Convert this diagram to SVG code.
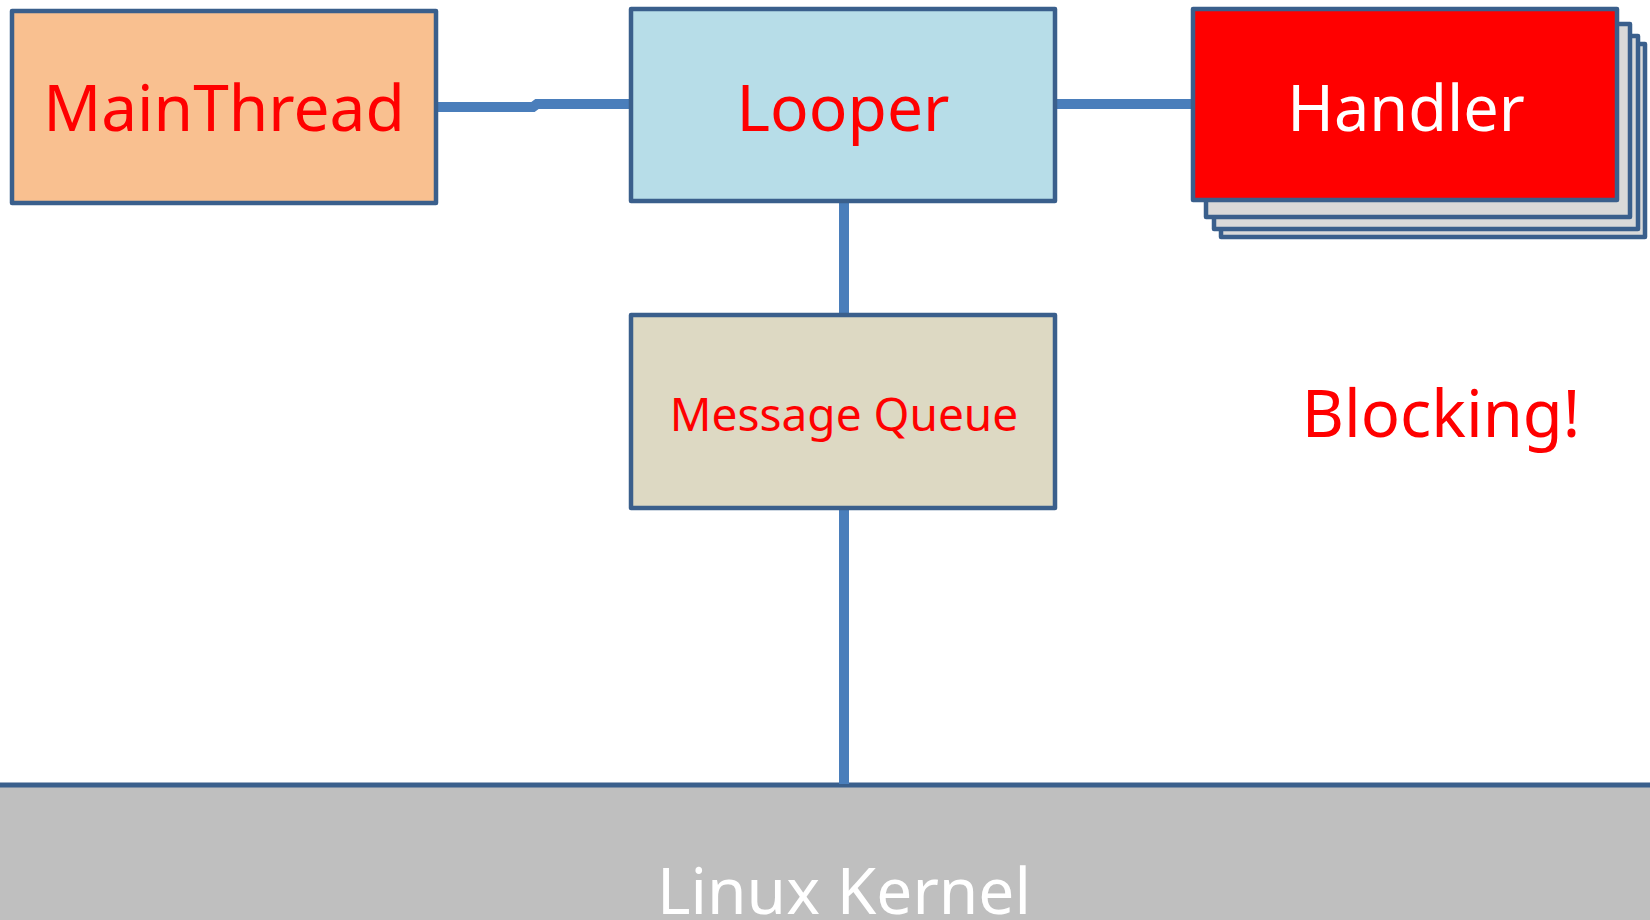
<svg xmlns="http://www.w3.org/2000/svg" width="1650" height="920" viewBox="0 0 1650 920">
<style>
.box{stroke:#3A5F8C;stroke-width:4.5;stroke-linejoin:round}
.conn{stroke:#4A7EBB;stroke-width:10;fill:none}
.t{font-family:"Noto Sans","Open Sans",sans-serif;text-anchor:middle}
.red{fill:#FF0000}
.white{fill:#FFFFFF}
</style>
<rect width="1650" height="920" fill="#FFFFFF"/>
<g id="kernel">
<rect x="0" y="785" width="1650" height="140" fill="#BFBFBF"/>
<line x1="0" y1="785" x2="1650" y2="785" stroke="#3A5F8C" stroke-width="5"/>
<text class="t white" x="844" y="914" font-size="64">Linux Kernel</text>
</g>
<g id="connectors">
<path class="conn" d="M437 107 L533 107 L537 104 L631 104"/>
<line class="conn" x1="1055" y1="104" x2="1193" y2="104"/>
<line class="conn" x1="844" y1="201" x2="844" y2="315"/>
<line class="conn" x1="844" y1="508" x2="844" y2="784"/>
</g>
<g id="mainthread">
<rect class="box" x="12" y="11" width="424" height="192" fill="#F9C090"/>
<text class="t red" x="224" y="131" font-size="64">MainThread</text>
</g>
<g id="looper">
<rect class="box" x="631" y="9" width="424" height="192" fill="#B7DDE8"/>
<text class="t red" x="843" y="131" font-size="64">Looper</text>
</g>
<g id="handler">
<rect class="box" x="1221" y="44" width="424" height="193" fill="#D9D9D9"/>
<rect class="box" x="1214" y="36" width="424" height="193" fill="#D9D9D9"/>
<rect class="box" x="1206" y="24" width="424" height="193" fill="#D9D9D9"/>
<rect class="box" x="1193" y="9" width="424" height="191" fill="#FF0000"/>
<text class="t white" x="1406" y="131" font-size="63">Handler</text>
</g>
<g id="messagequeue">
<rect class="box" x="631" y="315" width="424" height="193" fill="#DDD9C3"/>
<text class="t red" x="844" y="431" font-size="46">Message Queue</text>
</g>
<g id="blocking">
<text class="t red" x="1441" y="437" font-size="65">Blocking!</text>
</g>
</svg>
